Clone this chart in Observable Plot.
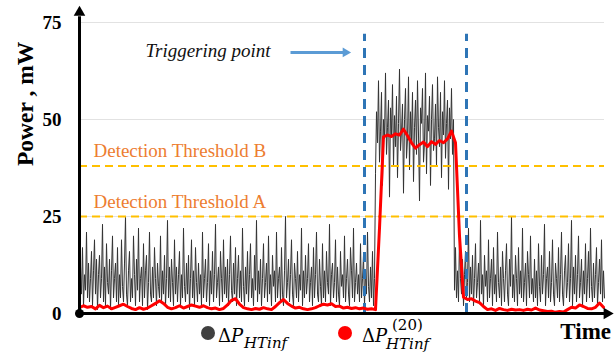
<!DOCTYPE html>
<html>
<head>
<meta charset="utf-8">
<script src="https://cdn.jsdelivr.net/npm/d3@7"></script>
<script src="https://cdn.jsdelivr.net/npm/@observablehq/plot@0.6"></script>
<style>
  html, body { margin: 0; padding: 0; background: #fff; }
  #chart { width: 615px; height: 358px; position: relative; overflow: hidden; }
  #chart svg { display: block; }
  #chart > svg:not(#legend) text { font-family: 'Liberation Serif', 'Times New Roman', serif !important; }
  #legend { position: absolute; left: 0; top: 300px; }
  #legend text { font-family: 'DejaVu Serif', serif; }
  #legend text.lbl { font-family: 'Liberation Serif', 'Times New Roman', serif; }
</style>
</head>
<body>
<div id="chart"></div>
<script>
// ---- Data ----
// Black series ΔP_HTinf (mW): before trigger, triggered window, after trigger
const blackLow1 = [
  3,12,5,17,2,10,6,21,4,13,3,9,16,2,11,19,5,14,1,10,
  15,4,9,23,3,12,2,18,8,5,14,1,11,20,4,9,13,3,17,2,
  10,4,19,7,3,13,25,5,2,11,16,3,9,4,20,10,2,14,6,22,
  3,9,12,2,18,4,11,15,1,8,21,5,3,12,4,17,9,2,13,7,
  4,20,3,11,5,15,2,9,24,4,12,3,14,8,2,19,5,12,3,10,
  16,2,10,4,22,7,3,13,5,15,1,9,19,4,11,2,17,8,3,13,
  5,10,2,21,4,9,14,3,8,18,2,11,5,16,3,10,23,4,8,12,
  2,16,9,3,19,5,12,4,14,2,10,20,6,3,13,5,17,2,9,15,
  4,11,3,22,7,2,12,5,16,3,10,18,4,9,2,15,6,24,3,11,
  5,14,2,9,18,4,8,13,3,20,5,10,2,15,7,11,3,21,4,9,
  12,3,17,5,2,11,25,4,8,14,3,10,19,5,2,13,9,4,16,3,
  10,6,22,2,11,4,15,5,9,18,3,8,12,2,17,4,10,21,5,3,
  14,7,2,18,4,11,3,16,8,5,23,2,10,13,4,8,19,3,12,5,
  2,16,7,10,4,20,3,9,14,5,2,17,11,4,22,3,8,13,5,10,
  3,18,4,9,15,2,11,5,21,7,3,12,4,16,2,9
];
const blackHigh = [
  36,52,44,60,39,47,57,33,50,45,62,41,48,55,30,53,46,59,38,51,
  43,56,35,49,63,42,47,54,31,50,58,40,45,61,37,52,44,57,34,48,
  55,41,60,46,29,53,49,58,39,44,62,36,51,47,56,33,50,59,42,45,
  54,38,61,48,43,57,35,52,46,60,40,49,55,32,53,45,58,41,50
];
const blackLow2 = [
  6,17,4,11,3,20,9,5,14,2,10,16,4,8,22,3,12,5,15,2,
  9,18,4,8,13,3,24,5,10,2,15,7,11,3,19,4,9,14,2,17,
  5,10,3,21,8,4,12,2,16,9,3,11,18,5,2,14,7,25,4,10,
  3,15,9,2,17,5,11,4,22,3,8,13,2,16,10,4,20,5,9,3,
  14,4,11,2,18,7,3,15,5,10,23,2,9,12,4,16,3,8,19,5,
  2,13,9,4,17,3,10,21,5,2,11,15,4,8,18,3,9,24,2,12,
  5,15,3,10,20,4,8,14,2,11,5,18,3,9,16,4,22,7,3,13,
  4,10,17,2,8,14,5,19,3,11,4
];
const blackValues = [...blackLow1, ...blackHigh, ...blackLow2];
const blackStep = 1;   // time units between black samples

// Red series ΔP_HTinf^(20) (mW)
const redValues = [
  1.5,2.0,1.6,1.8,1.2,2.1,1.5,1.9,1.2,1.6,2.0,2.4,1.8,1.3,1.0,1.5,1.1,1.4,2.0,2.6,
  3.3,2.6,1.6,1.2,1.5,2.0,1.4,1.8,2.2,1.9,1.6,2.0,1.5,1.2,1.4,1.0,1.3,2.2,3.4,3.8,
  2.4,1.5,1.2,1.0,1.3,1.1,1.5,1.2,1.0,1.8,2.8,3.6,2.6,1.9,1.4,1.6,1.2,1.0,1.2,1.5,
  2.0,2.4,2.2,2.5,1.8,1.9,1.4,1.6,1.3,1.5,1.2,1.4,1.1,1.2,1.0,22,45.5,46.0,45.6,46.3,
  46.0,47.5,45.8,44.0,42.6,43.5,44.2,43.0,44.3,43.6,44.6,44.0,45.0,47.0,44.0,20,4.2,3.6,3.8,3.2,
  2.8,1.8,1.0,1.2,0.8,1.3,1.0,0.8,1.1,0.9,1.0,0.8,1.1,0.9,1.4,0.9,0.7,0.5,0.6,0.3,
  0.5,0.4,1.0,1.6,1.4,2.2,1.8,1.3,1.2,1.6,2.7,1.6
];
const redStep = 4;     // time units between red samples

const yTicks = [0, 25, 50, 75];
const thresholds = [
  {name: "Detection Threshold B", value: 38},
  {name: "Detection Threshold A", value: 25}
];
const triggerTimes = [285, 387];
const yLabel = "Power , mW";
const xLabel = "Time";
const annotation = "Triggering point";

// ---- Tables built from the arrays ----
const black = blackValues.map((v, i) => ({t: i * blackStep, v}));
const red = redValues.map((v, i) => ({t: i * redStep, v}));
const tMax = (blackValues.length - 1) * blackStep;

const serif = "Liberation Serif, Times New Roman, serif";

const plot = Plot.plot({
  width: 615,
  height: 318,
  marginLeft: 79,
  marginRight: 11,
  marginTop: 22,
  marginBottom: 5,
  x: {domain: [0, tMax], axis: null},
  y: {domain: [0, 75], axis: null},
  style: {background: "#fff", overflow: "visible"},
  marks: [
    Plot.ruleY([25, 50, 75], {stroke: "#e2e2e2", strokeWidth: 1}),
    Plot.line(black, {x: "t", y: "v", stroke: "#333333", strokeWidth: 1}),
    Plot.ruleY(thresholds, {y: "value", stroke: "#FFC000", strokeWidth: 2, strokeDasharray: "8,5"}),
    Plot.ruleX(triggerTimes, {y1: 0, y2: 72, stroke: "#2E75B6", strokeWidth: 3, strokeDasharray: "10,7"}),
    Plot.line(red, {x: "t", y: "v", stroke: "#FF0000", strokeWidth: 3, strokeLinejoin: "round"}),
    Plot.text(thresholds, {x: 14, y: d => d.value + 3.8, text: "name", textAnchor: "start", fill: "#ED7D31", fontSize: 19, fontFamily: serif}),
    Plot.text([annotation], {x: 66, y: 67.8, text: d => d, textAnchor: "start", fontStyle: "italic", fontSize: 19, fill: "#111", fontFamily: serif}),
    Plot.link([{x1: 211, x2: 264, y: 67.3}], {x1: "x1", x2: "x2", y1: "y", y2: "y", stroke: "#5B9BD5", strokeWidth: 3}),
    Plot.dot([{x: 266, y: 67.3}], {x: "x", y: "y", symbol: "triangle", rotate: 90, r: 3.6, fill: "#5B9BD5", stroke: null}),
    // axis lines with arrowheads
    Plot.ruleX([0], {y1: 0, y2: 76.5, stroke: "#000", strokeWidth: 3}),
    Plot.dot([{x: 0, y: 77.6}], {x: "x", y: "y", symbol: "triangle", r: 4.3, fill: "#000", stroke: null}),
    Plot.ruleY([0], {x1: 0, x2: 525, stroke: "#000", strokeWidth: 3}),
    Plot.dot([{x: 527.5, y: 0}], {x: "x", y: "y", symbol: "triangle", rotate: 90, r: 4.3, fill: "#000", stroke: null}),
    Plot.dot([{x: 0, y: 0}], {x: "x", y: "y", r: 4.5, fill: "#000", stroke: null}),
    Plot.axisY({ticks: yTicks, tickSize: 0, tickPadding: 18, fontSize: 19, fontWeight: "bold", fontFamily: serif, label: null, fill: "#000"}),
    Plot.text([yLabel], {frameAnchor: "left", text: d => d, rotate: -90, dx: -54, dy: -2, fontSize: 23.5, fontWeight: "bold", fontFamily: serif, fill: "#000"})
  ]
});
document.getElementById("chart").appendChild(plot);

// ---- Legend row below the plot (y = 300 .. 358) ----
const leg = d3.select("#chart").append("svg")
  .attr("id", "legend")
  .attr("width", 615).attr("height", 58);

leg.append("circle").attr("cx", 208).attr("cy", 33).attr("r", 7).attr("fill", "#404040");
const t1 = leg.append("text").attr("x", 218).attr("y", 42).attr("font-size", 18).attr("fill", "#000");
t1.append("tspan").text("Δ");
t1.append("tspan").attr("font-style", "italic").text("P");
leg.append("text").attr("x", 244).attr("y", 48).attr("font-size", 15).attr("font-style", "italic").text("HTinf");

leg.append("circle").attr("cx", 345).attr("cy", 33).attr("r", 7).attr("fill", "#FF0000");
const t2 = leg.append("text").attr("x", 362).attr("y", 42).attr("font-size", 18).attr("fill", "#000");
t2.append("tspan").text("Δ");
t2.append("tspan").attr("font-style", "italic").text("P");
leg.append("text").attr("x", 392).attr("y", 30).attr("font-size", 15).text("(20)");
leg.append("text").attr("x", 386).attr("y", 49).attr("font-size", 15).attr("font-style", "italic").text("HTinf");

leg.append("text").attr("class", "lbl").attr("x", 611).attr("y", 39).attr("text-anchor", "end")
  .attr("font-weight", "bold").attr("font-size", 23).text(xLabel);
</script>
</body>
</html>
